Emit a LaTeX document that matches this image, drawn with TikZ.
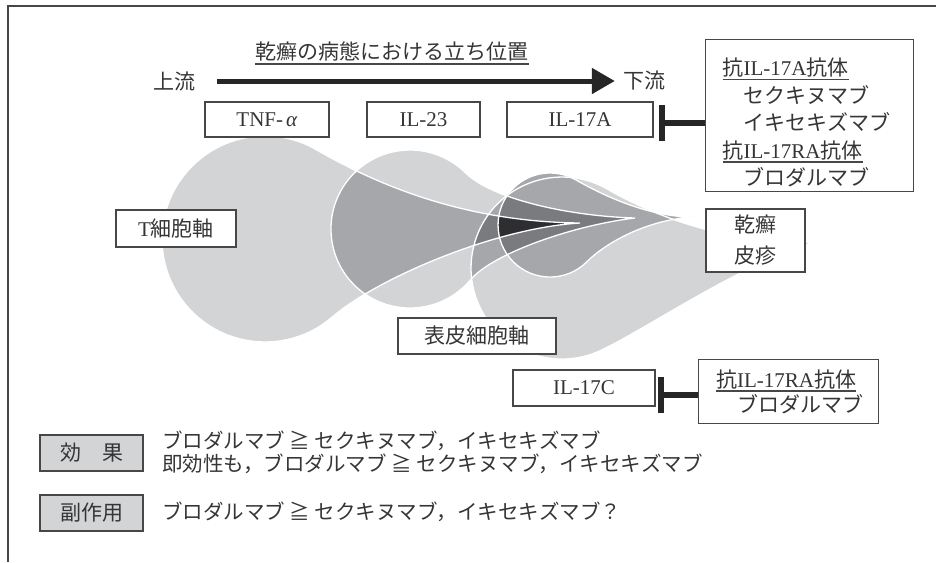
\documentclass[tikz,border=0pt]{standalone}
\usepackage{fontspec}
\setmainfont{Liberation Serif}
\newfontfamily\jp{Noto Sans CJK JP}
\usetikzlibrary{arrows.meta}

\definecolor{toneOne}{HTML}{D3D4D6}
\definecolor{toneTwo}{HTML}{A6A7AA}
\definecolor{toneThree}{HTML}{7A7B7F}
\definecolor{toneFour}{HTML}{2E2E30}
\definecolor{ink}{HTML}{353535}
\definecolor{rulegray}{HTML}{474747}

% underline drawn as a rule of the text's own width
\newcommand\ulin[1]{\setbox0\hbox{#1}\leavevmode\rlap{\color{rulegray}\rule[-4.5pt]{\wd0}{1.3pt}}\box0}

% drop-shaped regions: a circle with a tapering tail (pixel-style coordinates, y downwards)
\newcommand\pathA{(316.5,149.8) .. controls (398.8,197.3) and (485,222) .. (580,223)
  .. controls (495,228) and (378,278) .. (332.6,316.7)
  arc[start angle=49,end angle=300,radius=103] -- cycle}
\newcommand\pathB{(465.9,173.1) .. controls (490.6,197.8) and (565,216) .. (635,218)
  .. controls (575,225) and (493,253) .. (470.5,279.8)
  arc[start angle=40,end angle=315,radius=79] -- cycle}
\newcommand\pathC{(576,180) .. controls (606,197) and (650,217) .. (693,217)
  .. controls (645,220) and (604.5,244) .. (586.8,261.8)
  arc[start angle=45,end angle=300,radius=52] -- cycle}
\newcommand\pathD{(607.5,189.2) .. controls (655,216.7) and (730,245) .. (815,242)
  .. controls (740,264) and (645.8,329.4) .. (600.5,350.5)
  arc[start angle=65,end angle=300,radius=91] -- cycle}

\begin{document}
\begin{tikzpicture}[x=1pt,y=-1pt,
  box/.style={draw=rulegray, line width=1.1pt, fill=white, inner sep=0pt, text=ink,
    font=\fontsize{21}{25}\selectfont},
  tagbox/.style={box, fill=toneOne},
  plain/.style={inner sep=0pt, text=ink, font=\fontsize{21}{25}\selectfont},
  legendline/.style={plain, anchor=west, font=\fontsize{20.5}{25}\selectfont},
  flow/.style={line width=5pt, draw=black!85, -{Triangle[length=23pt,width=25pt]}},
  inhibit/.style={line width=6pt, draw=black!85, -{Bar[width=36pt]}},
  outline/.style={draw=white, line width=1.3pt},
]
\useasboundingbox (0,0) rectangle (936,562);

% frame edges
\draw[rulegray, line width=1.2pt] (936,6) -- (8,6) -- (8,562);

% single layers
\fill[toneOne] \pathD;
\fill[toneOne] \pathA;
\fill[toneOne] \pathB;
% two-fold overlaps
\begin{scope}\clip \pathA; \fill[toneTwo] \pathB; \fill[toneTwo] \pathD; \end{scope}
\begin{scope}\clip \pathB; \fill[toneTwo] \pathD; \end{scope}
\fill[toneTwo] \pathC;
% three-fold overlaps
\begin{scope}\clip \pathA; \clip \pathB; \fill[toneThree] \pathD; \end{scope}
\begin{scope}\clip \pathC; \fill[toneThree] \pathB; \end{scope}
% core
\begin{scope}\clip \pathA; \clip \pathB; \fill[toneFour] \pathC; \end{scope}
% white contours
\draw[outline] \pathA;
\draw[outline] \pathB;
\draw[outline] \pathD;
\draw[outline] \pathC;

% heading and direction arrow
\node[plain] (title) at (392,51) {\jp 乾癬の病態における立ち位置};
\draw[rulegray, line width=1.2pt] ([yshift=-3pt]title.south west) -- ([yshift=-3pt]title.south east);
\node[plain] (up) at (174,81) {\jp 上流};
\node[plain] (down) at (644,81) {\jp 下流};
\draw[flow, shorten <=22pt, shorten >=8pt] (up) -- (down);

% cytokines
\node[box, minimum width=124pt, minimum height=35pt] (tnf) at (267,119.5) {TNF-\hspace{3pt}\textit{α}};
\node[box, minimum width=113pt, minimum height=35pt] (il23) at (423.5,119.5) {IL-23};
\node[box, minimum width=146pt, minimum height=35pt] (il17a) at (580,119.5) {IL-17A};

% antibodies against the IL-17A axis
\node[box, anchor=north west, minimum width=208pt, minimum height=152pt, inner xsep=17pt,
  font=\fontsize{21}{27.5}\selectfont] (ab1) at (705,39)
  {\raisebox{-7pt}[\height][\depth]{\begin{minipage}{174pt}\raggedright
   \ulin{{\jp 抗}IL-17A{\jp 抗体}}\\
   {\jp 　セクキヌマブ}\\
   {\jp 　イキセキズマブ}\\
   \ulin{{\jp 抗}IL-17RA{\jp 抗体}}\\
   {\jp 　ブロダルマブ}\end{minipage}}};
\coordinate (bar1) at (659,122.5);
\draw[inhibit] (ab1.west |- bar1) -- (bar1);

% axes and lesion
\node[box, minimum width=120pt, minimum height=37pt] (tcell) at (176,228.5) {T{\jp 細胞軸}};
\node[box, minimum width=99pt, minimum height=63pt, align=center,
  font=\fontsize{21}{31}\selectfont] (lesion) at (755.5,240.5) {{\jp 乾癬}\\{\jp 皮疹}};
\node[box, minimum width=158pt, minimum height=36pt] (kera) at (477,336) {\jp 表皮細胞軸};

% IL-17C and its antibody
\node[box, minimum width=142pt, minimum height=36pt] (il17c) at (584,388) {IL-17C};
\node[box, anchor=north west, minimum width=180pt, minimum height=64pt, text width=145pt,
  align=left, inner xsep=17.5pt, font=\fontsize{21}{25}\selectfont] (ab2) at (698,359)
  {\ulin{{\jp 抗}IL-17RA{\jp 抗体}}\\
   {\jp 　ブロダルマブ}};
\coordinate (bar2) at (658,394.5);
\draw[inhibit] (ab2.west |- bar2) -- (bar2);

% comparison notes
\node[tagbox, minimum width=103pt, minimum height=36pt] (eff) at (91.5,453) {\jp 効　果};
\node[tagbox, minimum width=103pt, minimum height=36pt] (side) at (91.5,513) {\jp 副作用};
\node[legendline] (eff1) at (162,441) {\jp ブロダルマブ ≧ セクキヌマブ，イキセキズマブ};
\node[legendline] (eff2) at (162,464) {\jp 即効性も，ブロダルマブ ≧ セクキヌマブ，イキセキズマブ};
\node[legendline] (side1) at (162,512) {\jp ブロダルマブ ≧ セクキヌマブ，イキセキズマブ？};
\end{tikzpicture}
\end{document}
